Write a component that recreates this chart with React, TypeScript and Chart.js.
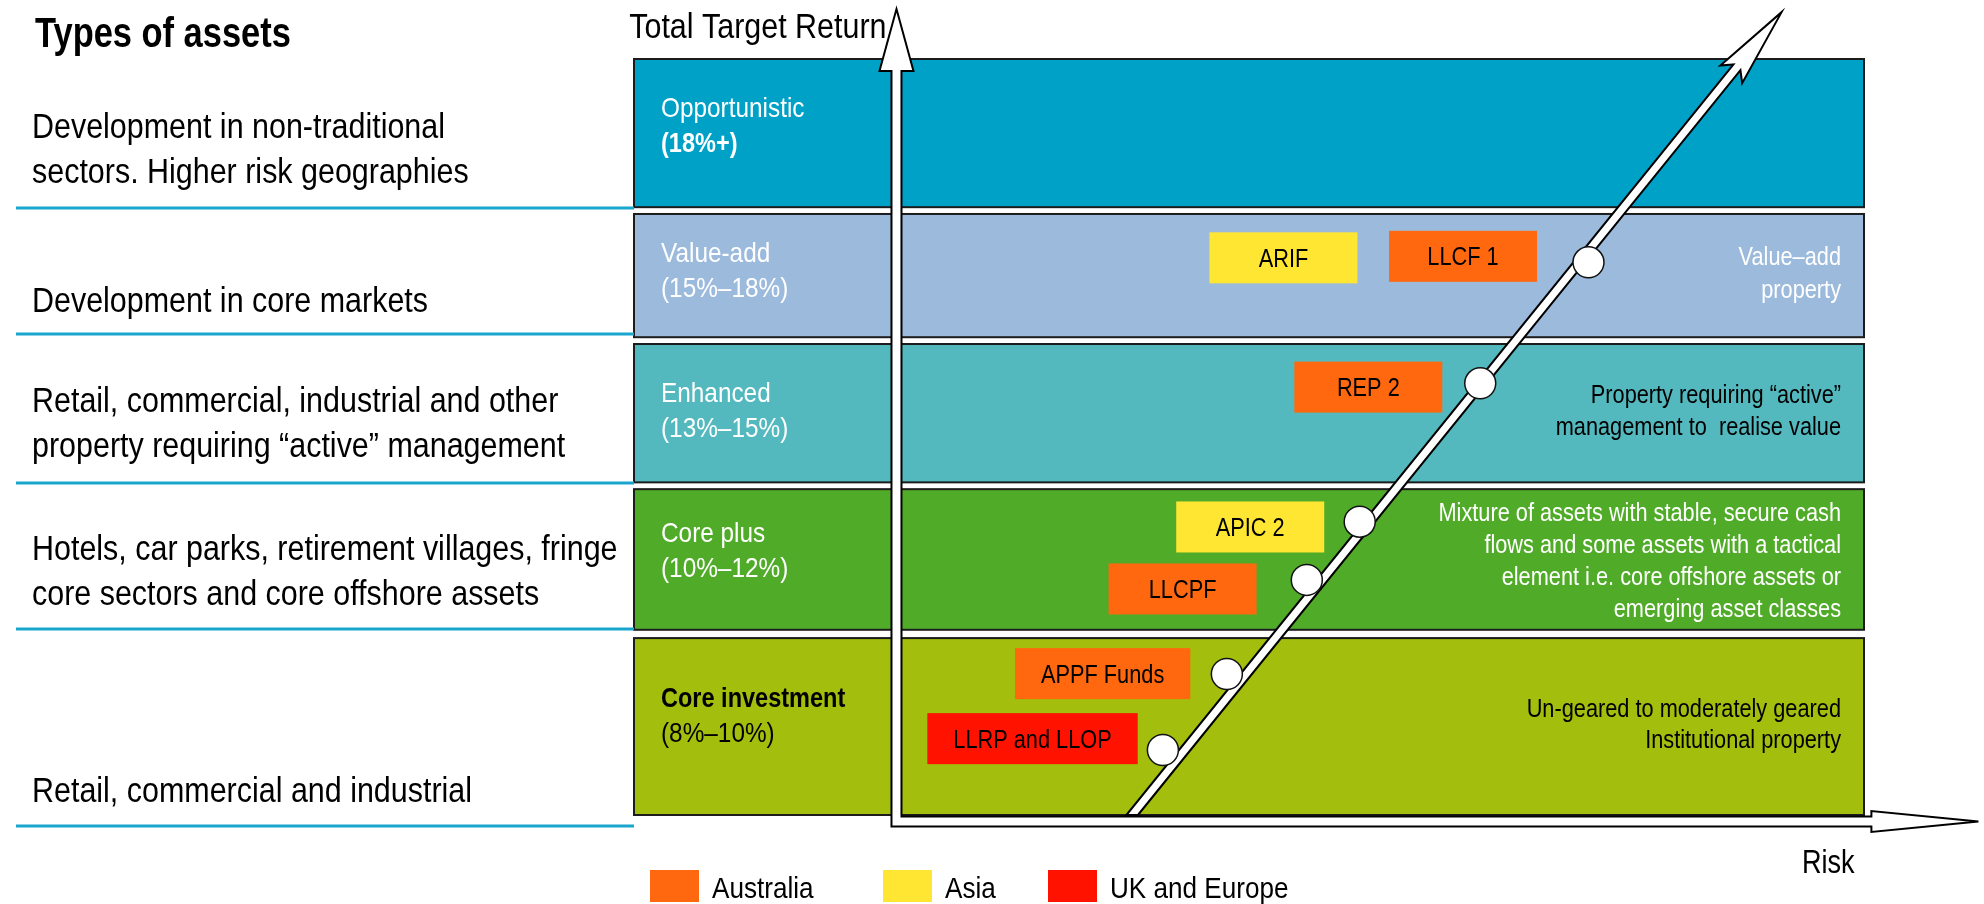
import React, { useEffect, useRef } from "react";
import { Chart, registerables } from "chart.js";

Chart.register(...registerables);

// ---------------- DATA ----------------
// Bands (bottom to top), values on a 0–100 "target return" index scale
const bandNames = ["Core investment", "Core plus", "Enhanced", "Value-add", "Opportunistic"];
const bandRanges = ["(8%–10%)", "(10%–12%)", "(13%–15%)", "(15%–18%)", "(18%+)"];
const bandLow = [0, 24.5, 44.0, 63.2, 80.4];
const bandHigh = [23.4, 43.1, 62.3, 79.5, 100];
const bandRiskMin = 0;
const bandRiskMax = 100;

const bandDescriptions = [
  ["Un-geared to moderately geared", "Institutional property"],
  ["Mixture of assets with stable, secure cash", "flows and some assets with a tactical", "element i.e. core offshore assets or", "emerging asset classes"],
  ["Property requiring \u201Cactive\u201D", "management to  realise value"],
  ["Value\u2013add", "property"],
  [],
];

const assetTypes = [
  ["Retail, commercial and industrial"],
  ["Hotels, car parks, retirement villages, fringe", "core sectors and core offshore assets"],
  ["Retail, commercial, industrial and other", "property requiring \u201Cactive\u201D management"],
  ["Development in core markets"],
  ["Development in non-traditional", "sectors. Higher risk geographies"],
];

// Fund points on the risk/return line
const pointRisk = [43.0, 48.2, 54.7, 59.0, 68.8, 77.6];
const pointReturn = [8.6, 18.65, 31.1, 38.8, 57.1, 73.1];

// Fund labels
const fundNames = ["LLRP and LLOP", "APPF Funds", "LLCPF", "APIC 2", "REP 2", "LLCF 1", "ARIF"];
const fundRegions = ["UK and Europe", "Australia", "Australia", "Asia", "Australia", "Australia", "Asia"];
const fundRisk = [32.4, 38.1, 44.6, 50.1, 59.7, 67.4, 52.8];
const fundReturn = [10.1, 18.7, 29.9, 38.1, 56.6, 73.9, 73.7];

const legendLabels = ["Australia", "Asia", "UK and Europe"];

// Arrow geometry (index units)
const riskLine = { fromRisk: 40.5, fromReturn: 0, toRisk: 93.3, toReturn: 106.2 };
const axisOrigin = { risk: 21.34, ret: -0.86 };
const axisEnd = { risk: 109.3, ret: 106.6 };

// ---------------- STYLE ----------------
const FONT = '"Liberation Sans", Arial, Helvetica, sans-serif';
const SX = 0.87;
const bandColors = ["#A3BE0C", "#50AC28", "#54B9BE", "#9BBADC", "#00A1C7"];
const bandTextColors = ["#000000", "#ffffff", "#ffffff", "#ffffff", "#ffffff"];
const bandDescColors = ["#000000", "#ffffff", "#000000", "#ffffff", "#ffffff"];
const regionColors: Record<string, string> = {
  Australia: "#FF680E",
  Asia: "#FFE633",
  "UK and Europe": "#FF1200",
};

const LAYOUT = {
  bandLabelX: 661,
  bandLabelBase: [707, 542, 402, 262, 117],
  bandDescRight: 1841,
  bandDescBase: [717, 521, 403, 265, 0],
  bandDescStep: [31, 32, 32, 33, 0],
  leftX: 32,
  leftBase: [802, 560, 412, 312, 138],
  leftStep: 45,
  sepY: [826, 629, 483, 334, 208],
  sepX0: 16,
  sepX1: 634,
};

function drawText(
  ctx: CanvasRenderingContext2D,
  s: string,
  x: number,
  y: number,
  size: number,
  color: string,
  align: CanvasTextAlign = "left",
  bold = false,
  sx = SX
) {
  ctx.save();
  ctx.font = `${bold ? "bold " : ""}${size}px ${FONT}`;
  ctx.fillStyle = color;
  ctx.textBaseline = "alphabetic";
  ctx.textAlign = align;
  ctx.translate(x, y);
  ctx.scale(sx, 1);
  ctx.fillText(s, 0, 0);
  ctx.restore();
}

function textWidth(ctx: CanvasRenderingContext2D, s: string, size: number, bold = false, sx = SX) {
  ctx.save();
  ctx.font = `${bold ? "bold " : ""}${size}px ${FONT}`;
  const w = ctx.measureText(s).width * sx;
  ctx.restore();
  return w;
}

const diagramPlugin = {
  id: "diagram",
  beforeDatasetsDraw(chart: any) {
    const ctx: CanvasRenderingContext2D = chart.ctx;
    const xs = chart.scales.x;
    const ys = chart.scales.y;
    const X = (v: number) => xs.getPixelForValue(v);
    const Y = (v: number) => ys.getPixelForValue(v);

    // Bands
    for (let i = 0; i < bandNames.length; i++) {
      const l = X(bandRiskMin), r = X(bandRiskMax);
      const t = Y(bandHigh[i]), b = Y(bandLow[i]);
      ctx.fillStyle = bandColors[i];
      ctx.fillRect(l, t, r - l, b - t);
      ctx.strokeStyle = "#1c1c1c";
      ctx.lineWidth = 2;
      ctx.strokeRect(l, t, r - l, b - t);

      const isCore = i === 0;
      const isOpp = i === bandNames.length - 1;
      drawText(ctx, bandNames[i], LAYOUT.bandLabelX, LAYOUT.bandLabelBase[i], 28, bandTextColors[i], "left", isCore, isCore ? 0.84 : SX);
      drawText(ctx, bandRanges[i], LAYOUT.bandLabelX, LAYOUT.bandLabelBase[i] + 35, 28, bandTextColors[i], "left", isOpp, isOpp ? 0.84 : SX);

      const lines = bandDescriptions[i];
      for (let k = 0; k < lines.length; k++) {
        drawText(ctx, lines[k], LAYOUT.bandDescRight, LAYOUT.bandDescBase[i] + k * LAYOUT.bandDescStep[i], 25, bandDescColors[i], "right");
      }
    }

    // Fund boxes
    const boxH = 51;
    for (let i = 0; i < fundNames.length; i++) {
      const cx = X(fundRisk[i]);
      const cy = Y(fundReturn[i]);
      const tw = textWidth(ctx, fundNames[i], 25);
      const w = Math.max(148, tw + 52);
      ctx.fillStyle = regionColors[fundRegions[i]];
      ctx.fillRect(cx - w / 2, cy - boxH / 2, w, boxH);
      drawText(ctx, fundNames[i], cx, cy + 9, 25, "#000000", "center");
    }

    // Diagonal risk/return arrow
    const tail = { x: X(riskLine.fromRisk), y: Y(riskLine.fromReturn) };
    const tip = { x: X(riskLine.toRisk), y: Y(riskLine.toReturn) };
    const dx = tip.x - tail.x, dy = tip.y - tail.y;
    const len = Math.hypot(dx, dy);
    const u = { x: dx / len, y: dy / len };
    const n = { x: -u.y, y: u.x };
    const w = 4.5, hh = 14, L = 80, notch = 9;
    const tA = -(w * n.y) / u.y;
    const tB = (w * n.y) / u.y;
    const P = (bx: number, by: number, a: number, b: number) => ({ x: bx + a * u.x + b * n.x, y: by + a * u.y + b * n.y });
    const pts = [
      P(tail.x, tail.y, tA, w),
      P(tip.x, tip.y, -(L - notch), w),
      P(tip.x, tip.y, -L, hh),
      { x: tip.x, y: tip.y },
      P(tip.x, tip.y, -L, -hh),
      P(tip.x, tip.y, -(L - notch), -w),
      P(tail.x, tail.y, tB, -w),
    ];
    ctx.beginPath();
    ctx.moveTo(pts[0].x, pts[0].y);
    for (let k = 1; k < pts.length; k++) ctx.lineTo(pts[k].x, pts[k].y);
    ctx.closePath();
    ctx.fillStyle = "#ffffff";
    ctx.fill();
    ctx.strokeStyle = "#000000";
    ctx.lineWidth = 2;
    ctx.lineJoin = "miter";
    ctx.stroke();
  },
  afterDatasetsDraw(chart: any) {
    const ctx: CanvasRenderingContext2D = chart.ctx;
    const xs = chart.scales.x;
    const ys = chart.scales.y;
    const X = (v: number) => xs.getPixelForValue(v);
    const Y = (v: number) => ys.getPixelForValue(v);

    // L-shaped hollow axis arrows
    const yx = X(axisOrigin.risk);
    const xy = Y(axisOrigin.ret);
    const yTop = Y(axisEnd.ret);
    const xTip = X(axisEnd.risk);
    const w = 5;
    const yHeadBase = yTop + 62, yHw = 17;
    const xHeadBase = xTip - 107, xHw = 10.5;
    ctx.beginPath();
    ctx.moveTo(yx, yTop);
    ctx.lineTo(yx + yHw, yHeadBase);
    ctx.lineTo(yx + w, yHeadBase);
    ctx.lineTo(yx + w, xy - w);
    ctx.lineTo(xHeadBase, xy - w);
    ctx.lineTo(xHeadBase, xy - xHw);
    ctx.lineTo(xTip, xy);
    ctx.lineTo(xHeadBase, xy + xHw);
    ctx.lineTo(xHeadBase, xy + w);
    ctx.lineTo(yx - w, xy + w);
    ctx.lineTo(yx - w, yHeadBase);
    ctx.lineTo(yx - yHw, yHeadBase);
    ctx.closePath();
    ctx.fillStyle = "#ffffff";
    ctx.fill();
    ctx.strokeStyle = "#000000";
    ctx.lineWidth = 2;
    ctx.lineJoin = "miter";
    ctx.stroke();

    // Axis titles
    drawText(ctx, "Total Target Return", yx - 10, 38, 35, "#000000", "right");
    drawText(ctx, "Risk", 1802, 873, 33, "#000000", "left", false, 0.82);

    // Left: types of assets
    drawText(ctx, "Types of assets", 35, 47, 42, "#000000", "left", true, 0.82);
    for (let i = 0; i < assetTypes.length; i++) {
      const lines = assetTypes[i];
      for (let k = 0; k < lines.length; k++) {
        drawText(ctx, lines[k], LAYOUT.leftX, LAYOUT.leftBase[i] + k * LAYOUT.leftStep, 35, "#000000");
      }
    }
    ctx.strokeStyle = "#18A6CD";
    ctx.lineWidth = 3;
    for (const sy of LAYOUT.sepY) {
      ctx.beginPath();
      ctx.moveTo(LAYOUT.sepX0, sy);
      ctx.lineTo(LAYOUT.sepX1, sy);
      ctx.stroke();
    }

    // Legend
    const legendX = [650, 883, 1048];
    for (let i = 0; i < legendLabels.length; i++) {
      ctx.fillStyle = regionColors[legendLabels[i]];
      ctx.fillRect(legendX[i], 870, 49, 32);
      drawText(ctx, legendLabels[i], legendX[i] + 62, 898, 30, "#000000");
    }
  },
};

export default function App() {
  const ref = useRef<HTMLCanvasElement | null>(null);
  useEffect(() => {
    document.body.style.margin = "0";
    const canvas = ref.current;
    if (!canvas) return;
    const chart = new Chart(canvas, {
      type: "scatter",
      data: {
        datasets: [
          {
            label: "Funds",
            data: pointRisk.map((r, i) => ({ x: r, y: pointReturn[i] })),
            pointRadius: 15.5,
            pointHoverRadius: 15.5,
            backgroundColor: "#ffffff",
            borderColor: "#111111",
            borderWidth: 1.5,
            clip: false as any,
          },
        ],
      },
      options: {
        responsive: false,
        animation: false,
        devicePixelRatio: 1,
        layout: { padding: { left: 634, right: 120, top: 59, bottom: 89 } },
        scales: {
          x: { type: "linear", min: 0, max: 100, display: false },
          y: { type: "linear", min: 0, max: 100, display: false },
        },
        plugins: { legend: { display: false }, tooltip: { enabled: false } },
        events: [],
      },
      plugins: [diagramPlugin],
    });
    return () => chart.destroy();
  }, []);
  return (
    <canvas ref={ref} width={1984} height={904} style={{ display: "block", width: 1984, height: 904 }} />
  );
}
